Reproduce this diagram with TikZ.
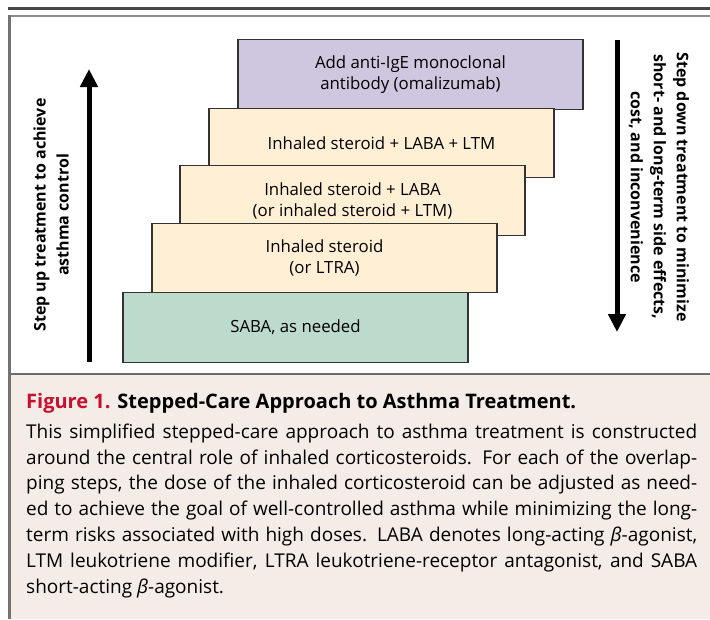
\documentclass[tikz,border=0pt]{standalone}
\usepackage{fontspec}
\setmainfont{Open Sans}
\usetikzlibrary{arrows.meta}
\definecolor{antiige}{HTML}{CFC6DF}
\definecolor{steroid}{HTML}{FFF0D5}
\definecolor{reliever}{HTML}{BDDBCC}
\definecolor{capbg}{HTML}{F3ECE7}
\definecolor{figred}{HTML}{C8102E}
\newcommand{\capline}[1]{\hbox to 671pt{#1}}
\newcommand{\betaterm}{{\itshape β}}
\tikzset{
  stepbox/.style={draw=black!80, line width=1.1pt, minimum width=345pt, minimum height=69.5pt,
    align=center, inner sep=0pt, font=\fontsize{16.8}{21}\selectfont},
  sidelabel/.style={align=center, font=\bfseries\fontsize{16}{23}\selectfont},
  bigarrow/.style={line width=5pt, -{Triangle[width=17pt,length=18pt]}}
}
\begin{document}
\begin{tikzpicture}[x=1pt,y=-1pt]
  \useasboundingbox (0,0) rectangle (710,619);
  \fill[capbg] (10,375) rectangle (710,619);
  \draw[line width=2.2pt, black!72] (8,8.5) -- (710,8.5);
  \draw[line width=1.4pt, black!45] (8,16) -- (710,16);
  \draw[line width=2.2pt, black!55] (9.5,15.3) -- (9.5,619);
  \draw[line width=2pt, black!58] (9,374) -- (710,374);

  \node[stepbox, fill=antiige] (omalizumab) at (410.5,74.5) {Add anti-IgE monoclonal\\antibody (omalizumab)};
  \node[stepbox, fill=steroid] (laba_ltm) at (381.5,143) {Inhaled steroid + LABA + LTM};
  \node[stepbox, fill=steroid] (laba) at (352.5,200.5) {Inhaled steroid + LABA\\(or inhaled steroid + LTM)};
  \node[stepbox, fill=steroid] (steroid) at (324.5,258) {Inhaled steroid\\(or LTRA)};
  \node[stepbox, fill=reliever] (saba) at (295.5,327.5) {SABA, as needed};

  \coordinate (upfoot) at (89,362);
  \coordinate (uphead) at (89,69);
  \coordinate (downfoot) at (617,40);
  \coordinate (downhead) at (617,332);
  \draw[bigarrow] (upfoot) -- (uphead);
  \draw[bigarrow] (downfoot) -- (downhead);

  \node[sidelabel, rotate=90] (stepup) at (51,215) {Step up treatment to achieve\\asthma control};
  \node[sidelabel, rotate=-90] (stepdown) at (659,187) {Step down treatment to minimize\\short- and long-term side effects,\\cost, and inconvenience};

  \node[anchor=base west, inner sep=0pt, font=\bfseries\fontsize{20}{24}\selectfont] (title) at (26,408)
    {\textcolor{figred}{Figure 1.} Stepped-Care Approach to Asthma Treatment.};
  \node[anchor=north west, inner sep=0pt, font=\fontsize{19}{25.7}\selectfont] (caption) at (26,423.5)
    {\vbox{\baselineskip=25.8pt
      \capline{This simplified stepped-care approach to asthma treatment is constructed}
      \capline{around the central role of inhaled corticosteroids. For each of the overlap-}
      \capline{ping steps, the dose of the inhaled corticosteroid can be adjusted as need-}
      \capline{ed to achieve the goal of well-controlled asthma while minimizing the long-}
      \capline{term risks associated with high doses. LABA denotes long-acting \betaterm-agonist,}
      \capline{LTM leukotriene modifier, LTRA leukotriene-receptor antagonist, and SABA}
      \hbox{short-acting \betaterm-agonist.}}};
\end{tikzpicture}
\end{document}
